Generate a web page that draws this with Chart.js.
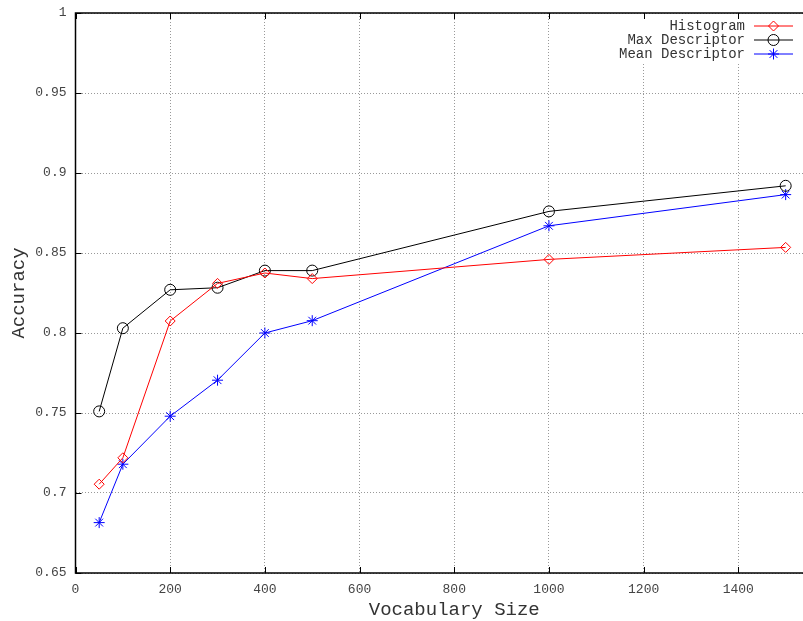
<!DOCTYPE html>
<html>
<head>
<meta charset="utf-8">
<script src="https://cdn.jsdelivr.net/npm/chart.js@4"></script>
<style>
  html, body { margin: 0; padding: 0; background: #fff; overflow: hidden; }
  #wrap { width: 860px; height: 621px; }
</style>
</head>
<body>
<div id="wrap"><canvas id="acc-chart" width="860" height="621"></canvas></div>
<script>
// vocabulary sizes (x) and accuracy per method
const vocabSizes = [50, 100, 200, 300, 400, 500, 1000, 1500];
const histogram = [0.7055, 0.722, 0.8075, 0.831, 0.8375, 0.834, 0.846, 0.8535];
const maxDescriptor = [0.751, 0.803, 0.827, 0.8283, 0.839, 0.839, 0.876, 0.892];
const meanDescriptor = [0.6815, 0.718, 0.748, 0.7705, 0.8, 0.8077, 0.867, 0.8865];
const seriesNames = ['Histogram', 'Max Descriptor', 'Mean Descriptor'];

const mono = '"Liberation Mono", "DejaVu Sans Mono", monospace';
const toPoints = vals => vals.map((v, i) => ({ x: vocabSizes[i], y: v }));

// gnuplot-like frame, inward ticks and key
const gnuplotFrame = {
    id: 'gnuplotFrame',
    beforeDatasetsDraw(chart) {
        const ctx = chart.ctx;
        const a = chart.chartArea;
        ctx.save();
        // blank the grid behind the key
        ctx.fillStyle = '#fff';
        ctx.fillRect(608, a.top + 3, 190, 46);
        ctx.restore();
    },
    afterDatasetsDraw(chart) {
        const ctx = chart.ctx;
        const a = chart.chartArea;
        const xs = chart.scales.x, ys = chart.scales.y;
        ctx.save();
        ctx.strokeStyle = '#000';
        ctx.lineWidth = 1.5;
        ctx.strokeRect(a.left, a.top, a.right - a.left, a.bottom - a.top);
        ctx.lineWidth = 1;
        ctx.beginPath();
        xs.ticks.forEach(t => {
            const px = Math.round(xs.getPixelForValue(t.value)) + 0.5;
            ctx.moveTo(px, a.bottom); ctx.lineTo(px, a.bottom - 6);
            ctx.moveTo(px, a.top); ctx.lineTo(px, a.top + 6);
        });
        ys.ticks.forEach(t => {
            const py = Math.round(ys.getPixelForValue(t.value)) + 0.5;
            ctx.moveTo(a.left, py); ctx.lineTo(a.left + 6, py);
        });
        ctx.stroke();

        // key
        ctx.font = '14px ' + mono;
        ctx.textAlign = 'right';
        ctx.textBaseline = 'middle';
        chart.data.datasets.forEach((ds, i) => {
            const y = a.top + 13 + i * 14;
            ctx.fillStyle = '#333';
            ctx.fillText(ds.label, 745, y);
            ctx.strokeStyle = ds.borderColor;
            ctx.lineWidth = 1;
            ctx.beginPath();
            ctx.moveTo(754, y); ctx.lineTo(793, y);
            ctx.stroke();
            ctx.fillStyle = 'rgba(0,0,0,0)';
            Chart.helpers.drawPoint(ctx, {
                pointStyle: ds.pointStyle,
                radius: ds.pointRadius,
                borderWidth: 1
            }, 773.5, y);
        });
        ctx.restore();
    }
};

const gridOpts = { color: '#999', lineWidth: 1, tickLength: 0, drawTicks: false };

new Chart(document.getElementById('acc-chart').getContext('2d'), {
    type: 'line',
    data: {
        datasets: [{
            label: seriesNames[0],
            data: toPoints(histogram),
            borderColor: '#ff0000',
            backgroundColor: 'rgba(0,0,0,0)',
            pointStyle: 'rectRot',
            pointRadius: 5,
            pointBorderWidth: 1,
            borderWidth: 1
        }, {
            label: seriesNames[1],
            data: toPoints(maxDescriptor),
            borderColor: '#000000',
            backgroundColor: 'rgba(0,0,0,0)',
            pointStyle: 'circle',
            pointRadius: 5.5,
            pointBorderWidth: 1,
            borderWidth: 1
        }, {
            label: seriesNames[2],
            data: toPoints(meanDescriptor),
            borderColor: '#0000ff',
            backgroundColor: 'rgba(0,0,0,0)',
            pointStyle: 'star',
            pointRadius: 5.5,
            pointBorderWidth: 1,
            borderWidth: 1
        }]
    },
    options: {
        responsive: false,
        animation: false,
        layout: { padding: { top: 13, right: 27, left: 0, bottom: 0 } },
        plugins: {
            legend: { display: false },
            tooltip: { enabled: false }
        },
        scales: {
            x: {
                type: 'linear',
                min: 0,
                max: 1600,
                afterFit: s => { s.height = 48; s.paddingLeft = 0; s.paddingRight = 0; },
                border: { display: false, dash: [1, 2] },
                grid: gridOpts,
                ticks: {
                    stepSize: 200,
                    padding: 9,
                    color: '#444',
                    font: { family: mono, size: 13 },
                    maxRotation: 0,
                    callback: v => String(v)
                },
                title: {
                    display: true,
                    text: 'Vocabulary Size',
                    color: '#333',
                    font: { family: mono, size: 19 },
                    padding: { top: 3, bottom: 0 }
                }
            },
            y: {
                min: 0.65,
                max: 1,
                afterFit: s => { s.width = 75.5; s.paddingTop = 0; s.paddingBottom = 0; },
                border: { display: false, dash: [1, 2] },
                grid: gridOpts,
                ticks: {
                    stepSize: 0.05,
                    padding: 9,
                    color: '#444',
                    font: { family: mono, size: 13 },
                    callback: v => parseFloat(v.toFixed(2)).toString()
                },
                title: {
                    display: true,
                    text: 'Accuracy',
                    color: '#333',
                    font: { family: mono, size: 19 },
                    padding: { top: 8, bottom: 0 }
                }
            }
        }
    },
    plugins: [gnuplotFrame]
});
</script>
</body>
</html>
